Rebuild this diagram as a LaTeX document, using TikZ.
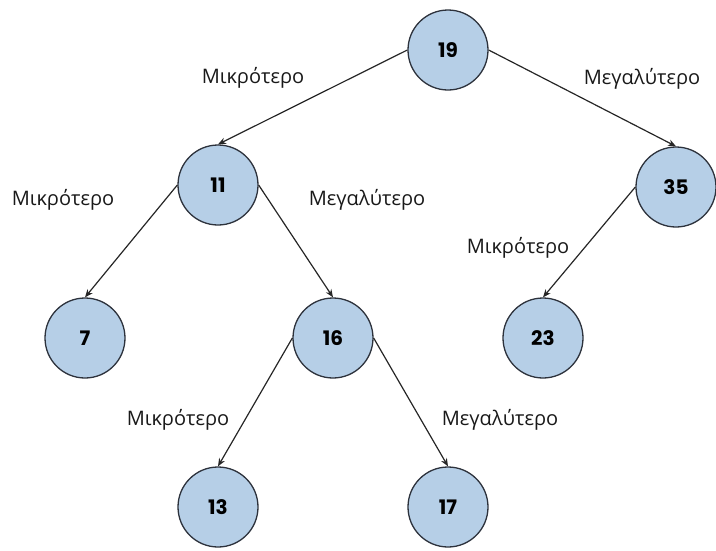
\documentclass[tikz,border=0pt]{standalone}
\usepackage{fontspec}
\setmainfont{Open Sans}
\newfontfamily\digitfont{Poppins}[BoldFont={* Bold}]
\usetikzlibrary{arrows.meta}

\definecolor{knotfill}{RGB}{182,207,231}
\definecolor{knotline}{RGB}{45,50,60}

\tikzset{
  knot/.style={circle, draw=knotline, fill=knotfill, line width=1.3pt,
    minimum size=80pt, inner sep=0pt, font=\digitfont\bfseries\fontsize{20}{20}\selectfont},
  branch/.style={-{Stealth[length=8pt,width=6.5pt]}, line width=1.2pt, draw=black!85},
  side/.style={font=\fontsize{20}{20}\selectfont, text=black!90}
}

\begin{document}
\begin{tikzpicture}[x=1pt, y=-1pt]
  \useasboundingbox (0,0) rectangle (716,550);
  % === Kombi ===
  \node[knot] (n19) at (448,50) {19};
  \node[knot] (n11) at (218,185) {11};
  \node[knot] (n35) at (676,187) {35};
  \node[knot] (n7)  at (85,338)  {7};
  \node[knot] (n16) at (333,338) {16};
  \node[knot] (n23) at (543,338) {23};
  \node[knot] (n13) at (218,507) {13};
  \node[knot] (n17) at (448,507) {17};
  % === Etiketes ===
  \node[side] (l19a) at (253,78)  {Μικρότερο};
  \node[side] (l19b) at (642,79)  {Μεγαλύτερο};
  \node[side] (l11a) at (63,200)  {Μικρότερο};
  \node[side] (l11b) at (367,200) {Μεγαλύτερο};
  \node[side] (l35a) at (518,248) {Μικρότερο};
  \node[side] (l16a) at (178,420) {Μικρότερο};
  \node[side] (l16b) at (500,420) {Μεγαλύτερο};
  % === Akmes ===
  \draw[branch] (n19.west) -- (n11.north);
  \draw[branch] (n19.east) -- (n35.north);
  \draw[branch] (n11.west) -- (n7.north);
  \draw[branch] (n11.east) -- (n16.north);
  \draw[branch] (n35.west) -- (n23.north);
  \draw[branch] (n16.west) -- (n13.north);
  \draw[branch] (n16.east) -- (n17.north);
\end{tikzpicture}
\end{document}
